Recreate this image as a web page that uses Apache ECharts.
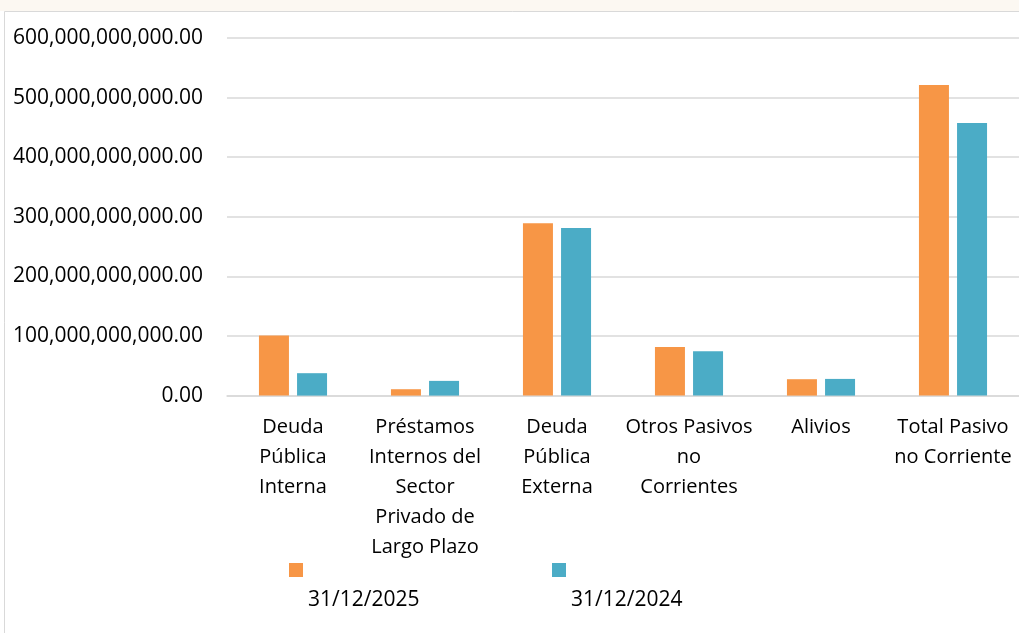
<!DOCTYPE html>
<html>
<head>
<meta charset="utf-8">
<script src="https://cdn.jsdelivr.net/npm/echarts@6/dist/echarts.min.js"></script>
<style>
  html, body { margin: 0; padding: 0; background: #fff; }
  #chart { width: 1019px; height: 633px; }
</style>
</head>
<body>
<div id="chart"></div>
<script>
// categorias (con saltos de linea como en el original)
const categories = [
  'Deuda\nPública\nInterna',
  'Préstamos\nInternos del\nSector\nPrivado de\nLargo Plazo',
  'Deuda\nPública\nExterna',
  'Otros Pasivos\nno\nCorrientes',
  'Alivios',
  'Total Pasivo\nno Corriente'
];
const seriesNames = ['31/12/2025', '31/12/2024'];
const values2025 = [101e9, 10.7e9, 289.3e9, 81.7e9, 27.5e9, 521e9];
const values2024 = [37.6e9, 24.7e9, 281e9, 74.5e9, 28e9, 457.5e9];
const colors = ['#f79646', '#4bacc6'];

const font = '"Open Sans", "Noto Sans", sans-serif';

const chart = echarts.init(document.getElementById('chart'));
chart.setOption({
  animation: false,
  backgroundColor: '#fff',
  color: colors,
  graphic: [
    { type: 'rect', silent: true, shape: { x: 0, y: 0, width: 1019, height: 11 },
      style: { fill: '#fcf8f2' } },
    { type: 'rect', silent: true, shape: { x: 4.5, y: 11.5, width: 1030, height: 640 },
      style: { fill: 'none', stroke: '#d9d9d9', lineWidth: 1 } }
  ],
  grid: { left: 227, top: 38, width: 794, height: 357.6, containLabel: false },
  legend: {
    left: 289,
    top: 510,
    padding: 0,
    itemWidth: 14,
    itemHeight: 14,
    itemGap: 130,
    icon: 'rect',
    data: seriesNames,
    // el texto va debajo del cuadrito, como en Excel
    formatter: name => '\n' + name,
    textStyle: {
      fontFamily: font,
      fontSize: 21,
      color: '#000',
      lineHeight: 60,
      width: 114
    }
  },
  xAxis: {
    type: 'category',
    data: categories,
    axisLine: { lineStyle: { color: '#d9d9d9', width: 1.5 } },
    axisTick: { show: false },
    axisLabel: {
      interval: 0,
      margin: 17,
      fontFamily: font,
      fontSize: 20,
      lineHeight: 30,
      color: '#000',
      align: 'center'
    }
  },
  yAxis: {
    type: 'value',
    min: 0,
    max: 600e9,
    interval: 100e9,
    axisLine: { show: false },
    axisTick: { show: false },
    splitLine: { lineStyle: { color: '#d9d9d9', width: 1.5 } },
    axisLabel: {
      margin: 24,
      fontFamily: font,
      fontSize: 21,
      color: '#000',
      formatter: v => v.toLocaleString('en-US', { minimumFractionDigits: 2, maximumFractionDigits: 2 })
    }
  },
  series: [
    { name: seriesNames[0], type: 'bar', data: values2025, barWidth: 30, barGap: '27%' },
    { name: seriesNames[1], type: 'bar', data: values2024, barWidth: 30, barGap: '27%' }
  ]
});
</script>
</body>
</html>
